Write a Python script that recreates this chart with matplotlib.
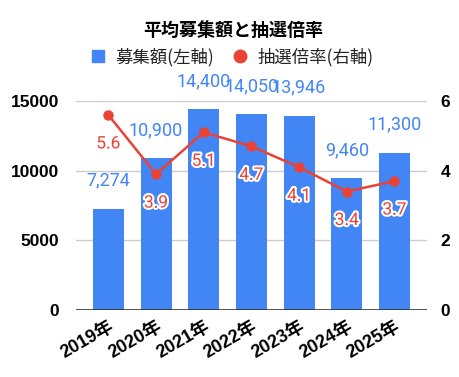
import matplotlib.pyplot as plt
import matplotlib.patheffects as pe
from matplotlib.lines import Line2D

years = ["2019年", "2020年", "2021年", "2022年", "2023年", "2024年", "2025年"]
amounts = [7274, 10900, 14400, 14050, 13946, 9460, 11300]
amount_labels = ["7,274", "10,900", "14,400", "14,050", "13,946", "9,460", "11,300"]
ratios = [5.6, 3.9, 5.1, 4.7, 4.1, 3.4, 3.7]

blue = "#4285F4"
red = "#EA4335"
fonts = ["Liberation Sans", "Noto Sans CJK JP"]
cjk = ["Noto Sans CJK JP", "DejaVu Sans"]

plt.rcParams['font.family'] = fonts

fig = plt.figure(figsize=(4.6, 3.77), dpi=100)
ax = fig.add_axes([0.165, 0.178, 0.763, 0.554])
ax2 = ax.twinx()

x = list(range(len(years)))
ax.bar(x, amounts, width=0.65, color=blue, zorder=2)
for xi, v, lab in zip(x, amounts, amount_labels):
    ax.annotate(lab, (xi, v), xytext=(0, 28), textcoords="offset pixels",
                ha="center", va="center", color=blue, fontsize=13,
                family=["Roboto", "DejaVu Sans"], annotation_clip=False)

ax2.plot(x, ratios, color=red, lw=1.8, marker="o", ms=6.5, zorder=3)
for xi, v in zip(x, ratios):
    ax2.annotate(f"{v:.1f}", (xi, v), xytext=(0, -29), textcoords="offset pixels",
                 ha="center", va="center", color=red, fontsize=12.5,
                 family=["Roboto", "DejaVu Sans"],
                 path_effects=[pe.withStroke(linewidth=3, foreground="white")])

ax.set_xlim(-0.68, 6.68)
ax.set_ylim(0, 15000)
ax2.set_ylim(0, 6)
ax.set_yticks([0, 5000, 10000, 15000])
ax2.set_yticks([0, 2, 4, 6])
ax.grid(axis="y", color="#cccccc", lw=1, zorder=0)
ax.set_axisbelow(True)
for a in (ax, ax2):
    for s in a.spines.values():
        s.set_visible(False)
    a.tick_params(length=0, labelsize=12.5)
ax.axhline(0, color="#333333", lw=1.2, zorder=4)
ax.set_xticks(x)
ax.set_xticklabels(years, rotation=30, ha="right", rotation_mode="anchor", fontsize=13)
ax.tick_params(axis="x", pad=6)
ax.tick_params(axis="y", pad=12)
ax2.tick_params(axis="y", pad=10)
for t in ax.get_yticklabels() + ax2.get_yticklabels() + ax.get_xticklabels():
    t.set_fontweight("bold")

fig.text(0.507, 0.92, "平均募集額と抽選倍率", ha="center", va="center",
         fontsize=13, fontweight="bold", family=cjk)
handles = [Line2D([], [], ls="none", marker="s", ms=9, color=blue),
           Line2D([], [], ls="none", marker="o", ms=9, color=red)]
fig.legend(handles, ["募集額(左軸)", "抽選倍率(右軸)"], loc="center",
           bbox_to_anchor=(0.503, 0.848), ncol=2, frameon=False,
           prop={"family": cjk, "size": 12.5}, handletextpad=0.5,
           columnspacing=1.0, handlelength=1.0, labelcolor="#222222")

fig.savefig("out.png", dpi=100)
